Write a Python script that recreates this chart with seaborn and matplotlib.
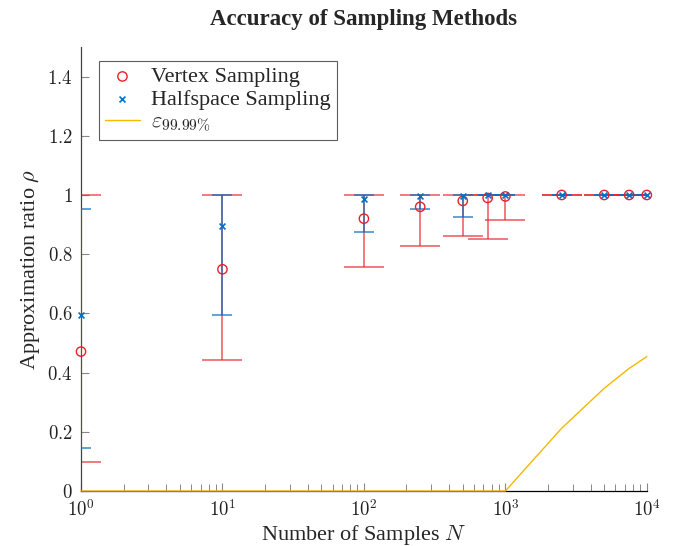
import matplotlib
matplotlib.use("Agg")
import matplotlib.pyplot as plt
import seaborn as sns
import numpy as np
import pandas as pd
from matplotlib.ticker import FixedLocator, LogLocator, NullFormatter

# ---- data ----
samples = [1, 10, 100, 250, 500, 750, 1000, 2500, 5000, 7500, 10000]
vertex_mean = [0.471, 0.749, 0.920, 0.960, 0.980, 0.990, 0.995, 1.0, 1.0, 1.0, 1.0]
vertex_low = [0.099, 0.443, 0.757, 0.827, 0.860, 0.850, 0.917, 0.999, 1.0, 1.0, 1.0]
vertex_high = [1.0, 1.0, 1.0, 1.0, 1.0, 1.0, 1.0, 1.0, 1.0, 1.0, 1.0]
half_mean = [0.595, 0.895, 0.985, 0.998, 0.998, 1.0, 1.0, 1.0, 1.0, 1.0, 1.0]
half_low = [0.144, 0.596, 0.874, 0.953, 0.924, 0.999, 1.0, 1.0, 1.0, 1.0, 1.0]
half_high = [0.953, 1.0, 1.0, 1.0, 1.0, 1.0, 1.0, 1.0, 1.0, 1.0, 1.0]
eps = [0, 0, 0, 0, 0, 0, 0, 0.212, 0.347, 0.414, 0.454]

x_ticks = [1, 10, 100, 1000, 10000]
x_ticklabels = ["$10^{0}$", "$10^{1}$", "$10^{2}$", "$10^{3}$", "$10^{4}$"]
y_ticks = [0, 0.2, 0.4, 0.6, 0.8, 1.0, 1.2, 1.4]
y_ticklabels = ["$0$", "$0.2$", "$0.4$", "$0.6$", "$0.8$", "$1$", "$1.2$", "$1.4$"]

RED = "#e8202a"
BLUE = "#0a6fc2"
YEL = "#f5b800"

sns.set_style("ticks")
plt.rcParams["font.family"] = ["Liberation Serif", "DejaVu Serif"]
plt.rcParams["mathtext.fontset"] = "cm"

fig = plt.figure(figsize=(6.83, 5.46), dpi=100)
ax = fig.add_axes([0.1186, 0.1007, 0.8284, 0.8133])

df = pd.DataFrame({"N": samples, "vm": vertex_mean, "vl": vertex_low, "vh": vertex_high,
                   "hm": half_mean, "hl": half_low, "hh": half_high, "eps": eps})

# error bars (clipped at the axes, as in the reference)
vm = np.array(vertex_mean); hm = np.array(half_mean)
ax.errorbar(samples, vm, yerr=[vm - np.array(vertex_low), np.array(vertex_high) - vm],
            fmt="none", ecolor=RED, alpha=0.7, elinewidth=1.2, capsize=14.4, capthick=1.2, zorder=2)
ax.errorbar(samples, hm, yerr=[hm - np.array(half_low), np.array(half_high) - hm],
            fmt="none", ecolor=BLUE, alpha=0.75, elinewidth=1.2, capsize=7.2, capthick=1.2, zorder=3)

sns.scatterplot(data=df, x="N", y="vm", ax=ax, marker="o", s=45, facecolor="none",
                edgecolor=RED, linewidth=1.0, label="Vertex Sampling", zorder=4, clip_on=False)
sns.scatterplot(data=df, x="N", y="hm", ax=ax, marker="x", s=18, color=BLUE,
                linewidth=1.2, label="Halfspace Sampling", zorder=5, clip_on=False)
sns.lineplot(data=df, x="N", y="eps", ax=ax, color=YEL, linewidth=1.0,
             label=r"$\varepsilon_{99.99\%}$", zorder=6, clip_on=False)

ax.set_xscale("log")
ax.set_xlim(1, 10000)
ax.set_ylim(0, 1.5)
ax.xaxis.set_major_locator(FixedLocator(x_ticks))
ax.set_xticklabels(x_ticklabels)
ax.xaxis.set_minor_locator(LogLocator(base=10, subs=np.arange(2, 10), numticks=20))
ax.xaxis.set_minor_formatter(NullFormatter())
ax.set_yticks(y_ticks)
ax.set_yticklabels(y_ticklabels)

ax.tick_params(axis="both", which="major", direction="in", length=6, width=0.8,
               color="#888888", labelsize=13.5, labelcolor="#222222")
ax.tick_params(axis="x", which="major", pad=6)
ax.tick_params(axis="y", which="major", pad=6)
ax.tick_params(axis="x", which="minor", direction="in", length=5, width=0.7, color="#888888")
for s in ["top", "right"]:
    ax.spines[s].set_visible(False)
ax.spines["left"].set_color("#444444")
ax.spines["bottom"].set_color("black")
ax.spines["left"].set_linewidth(0.9)
ax.spines["bottom"].set_linewidth(0.9)

ax.set_xlabel("Number of Samples $N$", fontsize=16, labelpad=2)
ax.set_ylabel(r"Approximation ratio $\rho$", fontsize=16, labelpad=4)
ax.set_title("Accuracy of Sampling Methods", fontsize=16.5, fontweight="bold", pad=16)

leg = ax.legend(loc="upper left", bbox_to_anchor=(0.032, 0.968), fontsize=16, frameon=True,
                fancybox=False, edgecolor="#333333", borderpad=0.25, labelspacing=0.1,
                handlelength=1.6, handletextpad=0.5, borderaxespad=0)
leg.get_frame().set_linewidth(0.8)

fig.savefig("out.png", dpi=100)
